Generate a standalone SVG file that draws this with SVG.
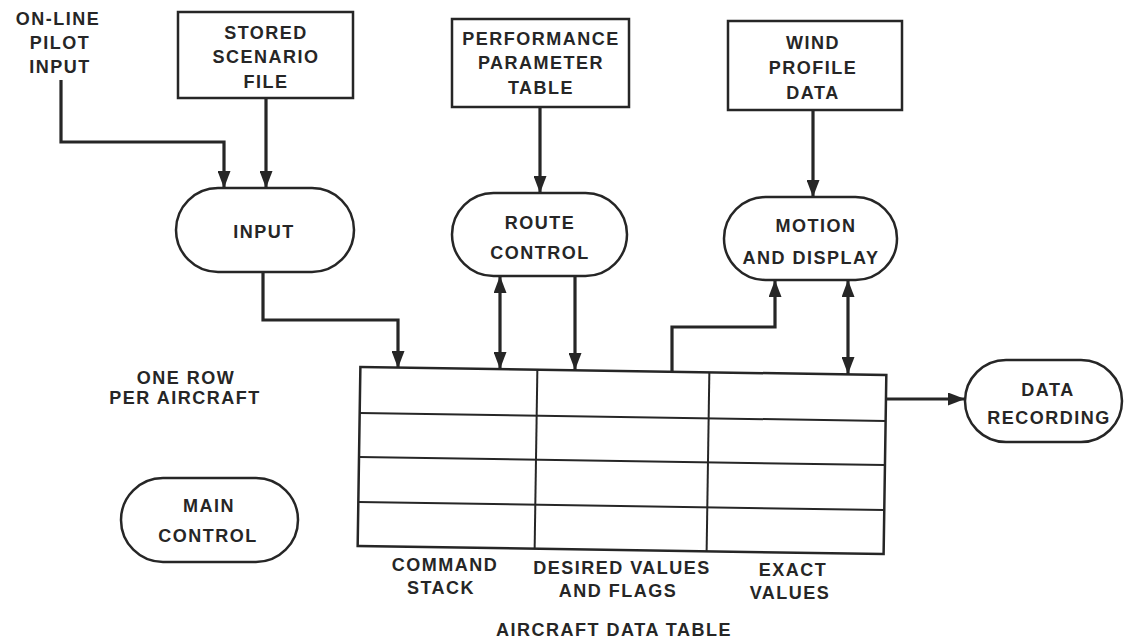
<svg xmlns="http://www.w3.org/2000/svg" width="1125" height="642" viewBox="0 0 1125 642">
<style>
  text { font-family: "Liberation Sans", Arial, sans-serif; font-weight: bold; font-size: 18px; letter-spacing: 1.5px; fill: #262626; text-anchor: middle; }
  .shape { fill: none; stroke: #262626; stroke-width: 2.5; }
  .grid { fill: none; stroke: #262626; stroke-width: 2; }
  .conn { fill: none; stroke: #262626; stroke-width: 3.2; }
</style>
<defs>
  <marker id="ah" markerUnits="userSpaceOnUse" markerWidth="17" markerHeight="13" refX="17" refY="6.5" orient="auto-start-reverse">
    <path d="M0,0 L17,6.5 L0,13 z" fill="#262626"/>
  </marker>
</defs>
<rect width="1125" height="642" fill="#ffffff"/>

<g id="pilot-input">
  <text x="58" y="25">ON-LINE</text>
  <text x="60" y="49">PILOT</text>
  <text x="60" y="73">INPUT</text>
</g>
<g id="stored-scenario">
  <rect class="shape" x="178" y="12" width="175" height="86"/>
  <text x="266" y="39">STORED</text>
  <text x="266" y="63">SCENARIO</text>
  <text x="266" y="88">FILE</text>
</g>
<g id="performance-table">
  <rect class="shape" x="452" y="19" width="177" height="88"/>
  <text x="541" y="45">PERFORMANCE</text>
  <text x="541" y="69">PARAMETER</text>
  <text x="541" y="94">TABLE</text>
</g>
<g id="wind-profile">
  <rect class="shape" x="728" y="21" width="174" height="89"/>
  <text x="813" y="49">WIND</text>
  <text x="813" y="74">PROFILE</text>
  <text x="813" y="99">DATA</text>
</g>
<g id="input">
  <rect class="shape" x="176" y="188" width="178" height="84" rx="42"/>
  <text x="264" y="238">INPUT</text>
</g>
<g id="route-control">
  <rect class="shape" x="452" y="193" width="175" height="83" rx="41.5"/>
  <text x="540" y="229">ROUTE</text>
  <text x="540" y="259">CONTROL</text>
</g>
<g id="motion-display">
  <rect class="shape" x="724" y="197" width="173" height="83" rx="41.5"/>
  <text x="816" y="232">MOTION</text>
  <text x="811" y="264">AND DISPLAY</text>
</g>
<g id="one-row-note">
  <text x="186" y="384">ONE ROW</text>
  <text x="185" y="404">PER AIRCRAFT</text>
</g>
<g id="main-control">
  <rect class="shape" x="121" y="478" width="177" height="84" rx="42"/>
  <text x="209" y="512">MAIN</text>
  <text x="208" y="542">CONTROL</text>
</g>
<g id="data-recording">
  <rect class="shape" x="965" y="360" width="157" height="82" rx="41"/>
  <text x="1048" y="396">DATA</text>
  <text x="1049" y="424">RECORDING</text>
</g>
<g id="aircraft-data-table">
  <g transform="rotate(0.87 622 460)">
    <rect class="shape" x="359" y="371" width="526" height="179"/>
    <line class="grid" x1="359" y1="417" x2="885" y2="417"/>
    <line class="grid" x1="359" y1="461" x2="885" y2="461"/>
    <line class="grid" x1="359" y1="506" x2="885" y2="506"/>
    <line class="grid" x1="536" y1="371" x2="536" y2="550"/>
    <line class="grid" x1="708" y1="371" x2="708" y2="550"/>
  </g>
  <text x="445" y="571">COMMAND</text>
  <text x="441" y="594">STACK</text>
  <text x="622" y="574">DESIRED VALUES</text>
  <text x="618" y="597">AND FLAGS</text>
  <text x="793" y="576">EXACT</text>
  <text x="790" y="599">VALUES</text>
  <text x="614" y="636">AIRCRAFT DATA TABLE</text>
</g>

<g id="connectors">
  <path class="conn" d="M61,80 V142 H224 V188" marker-end="url(#ah)"/>
  <path class="conn" d="M266,98 V188" marker-end="url(#ah)"/>
  <path class="conn" d="M263,272 V320 H398 V368" marker-end="url(#ah)"/>
  <path class="conn" d="M540,107 V193" marker-end="url(#ah)"/>
  <path class="conn" d="M500,276 V369" marker-start="url(#ah)" marker-end="url(#ah)"/>
  <path class="conn" d="M575,276 V370" marker-end="url(#ah)"/>
  <path class="conn" d="M813,110 V197" marker-end="url(#ah)"/>
  <path class="conn" d="M672,372 V327 H775 V280" marker-end="url(#ah)"/>
  <path class="conn" d="M848,280 V374" marker-start="url(#ah)" marker-end="url(#ah)"/>
  <path class="conn" d="M885,399 H965" marker-end="url(#ah)"/>
</g>
</svg>
